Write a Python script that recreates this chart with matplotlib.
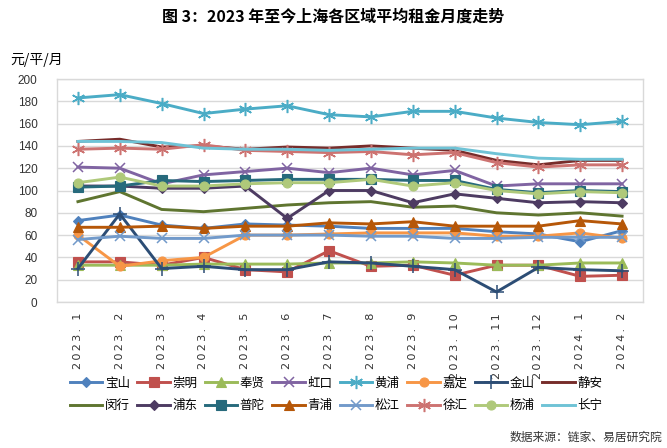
import matplotlib
matplotlib.use("Agg")
import matplotlib.pyplot as plt

plt.rcParams['font.family'] = ['Noto Sans CJK SC', 'DejaVu Sans']

months = ['2023. 1', '2023. 2', '2023. 3', '2023. 4', '2023. 5', '2023. 6', '2023. 7',
          '2023. 8', '2023. 9', '2023. 10', '2023. 11', '2023. 12', '2024. 1', '2024. 2']

baoshan   = [73, 78, 69, 66, 70, 69, 68, 66, 66, 66, 63, 61, 54, 64]
chongming = [36, 36, 33, 40, 29, 27, 46, 32, 33, 24, 33, 33, 23, 24]
fengxian  = [33, 33, 33, 34, 34, 34, 35, 35, 36, 35, 33, 33, 35, 35]
hongkou   = [121, 120, 106, 114, 117, 120, 116, 120, 114, 118, 104, 106, 106, 106]
huangpu   = [183, 186, 178, 169, 173, 176, 168, 166, 171, 171, 165, 161, 159, 162]
jiading   = [60, 32, 37, 40, 60, 60, 61, 62, 62, 62, 59, 59, 62, 57]
jinshan   = [30, 79, 30, 32, 29, 29, 36, 35, 32, 29, 9, 31, 29, 28]
jingan    = [144, 146, 139, 140, 137, 139, 138, 140, 138, 136, 127, 123, 127, 127]
minhang   = [90, 99, 83, 81, 84, 87, 89, 90, 85, 86, 80, 78, 80, 77]
pudong    = [104, 104, 102, 102, 104, 75, 100, 100, 89, 97, 93, 89, 90, 89]
putuo     = [103, 104, 109, 108, 109, 110, 110, 110, 109, 109, 101, 98, 100, 99]
qingpu    = [67, 67, 68, 66, 68, 68, 71, 70, 72, 68, 68, 68, 73, 70]
songjiang = [56, 59, 57, 57, 60, 60, 60, 59, 59, 57, 57, 58, 58, 58]
xuhui     = [137, 138, 137, 141, 136, 135, 134, 135, 132, 134, 125, 121, 123, 123]
yangpu    = [107, 112, 104, 104, 106, 107, 107, 110, 104, 107, 100, 97, 99, 98]
changning = [144, 144, 143, 138, 137, 137, 136, 137, 138, 138, 133, 129, 128, 128]

names = ['宝山', '崇明', '奉贤', '虹口', '黄浦', '嘉定', '金山', '静安',
         '闵行', '浦东', '普陀', '青浦', '松江', '徐汇', '杨浦', '长宁']
series = [baoshan, chongming, fengxian, hongkou, huangpu, jiading, jinshan, jingan,
          minhang, pudong, putuo, qingpu, songjiang, xuhui, yangpu, changning]
colors = ['#4F81BD', '#C0504D', '#9BBB59', '#8064A2', '#4BACC6', '#F79646', '#2C4D75', '#772C2A',
          '#5F7530', '#4D3B62', '#276A7C', '#B65708', '#729ACA', '#CD7371', '#AFC97A', '#6FC3D6']
ast = (6, 2, 0)
markers = ['D', 's', '^', 'x', ast, 'o', '+', None,
           None, 'D', 's', '^', 'x', ast, 'o', None]
msizes = [5.5, 6.5, 6.5, 7.5, 9.5, 6.5, 9.5, 0, 0, 5.5, 6.5, 6.5, 7.5, 9.5, 6.5, 0]

fig = plt.figure(figsize=(6.67, 4.48), dpi=100)
ax = fig.add_axes([57/667, 1-302/448, (643-57)/667, (302-79)/448])

x = list(range(len(months)))
handles = []
for name, ys, c, m, ms in zip(names, series, colors, markers, msizes):
    ln, = ax.plot(x, ys, color=c, lw=2.1, marker=m, markersize=ms,
                  markeredgewidth=1.1 if m in ('x', '+', ast) else 0.8,
                  markeredgecolor=c, markerfacecolor=c, label=name,
                  solid_joinstyle='round', zorder=3)
    handles.append(ln)

ax.set_xlim(-0.5, len(months) - 0.5)
ax.set_ylim(0, 200)
ax.set_yticks(range(0, 201, 20))
ax.yaxis.grid(True, color='#D9D9D9', lw=1)
ax.set_axisbelow(True)
for s in ax.spines.values():
    s.set_color('#D9D9D9')
    s.set_linewidth(1)
ax.tick_params(axis='both', length=0)
ax.tick_params(axis='y', pad=14, labelsize=8.5)
ax.set_xticks(x)
ax.set_xticklabels(['\u2009'.join(m) for m in months], rotation=90,
                   fontsize=8.1, va='top', family=['DejaVu Sans'], color='#333333')
ax.tick_params(axis='x', pad=8)
for t in ax.get_yticklabels():
    t.set_family(['Liberation Sans', 'DejaVu Sans'])
    t.set_color('#333333')

# legend: two rows of 8, filled row-wise
order = []
for i in range(8):
    order += [i, i + 8]
leg = fig.legend([handles[i] for i in order], [names[i] for i in order],
                 ncol=8, loc='center', bbox_to_anchor=(336/667, 1-394.5/448),
                 bbox_transform=fig.transFigure, frameon=False, fontsize=9,
                 handlelength=2.6, handletextpad=0.2, columnspacing=0.6,
                 labelspacing=0.75, borderpad=0)

fig.text(0.5, 1-17/448, '图 3：2023 年至今上海各区域平均租金月度走势',
         ha='center', va='center', fontsize=11.5, fontweight='bold')
fig.text(10/667, 1-60/448, '元/平/月', ha='left', va='center', fontsize=10)
fig.text(662/667, 1-437/448, '数据来源：链家、易居研究院', ha='right', va='center',
         fontsize=8.5, color='#333333')

fig.savefig('out.png', dpi=100)
